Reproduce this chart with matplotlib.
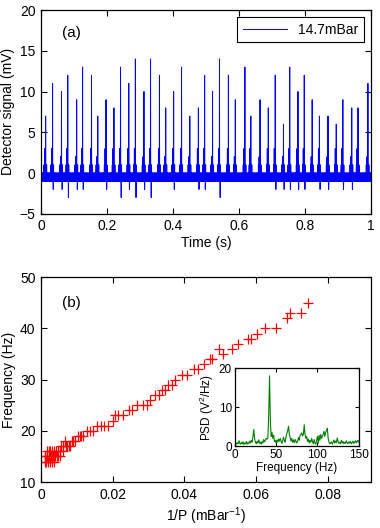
import numpy as np
import matplotlib
matplotlib.use('Agg')
import matplotlib.pyplot as plt

plt.rcParams['font.family'] = ['Liberation Sans', 'DejaVu Sans']
plt.rcParams['mathtext.default'] = 'regular'

# (a) detector signal: spike events
spike_times = [0.014, 0.035, 0.062, 0.081, 0.108, 0.126, 0.153, 0.172, 0.197, 0.221,
               0.241, 0.266, 0.286, 0.312, 0.332, 0.359, 0.378, 0.402, 0.426, 0.451,
               0.477, 0.496, 0.520, 0.541, 0.568, 0.589, 0.618, 0.636, 0.664, 0.689,
               0.710, 0.735, 0.754, 0.779, 0.798, 0.822, 0.844, 0.870, 0.895, 0.915,
               0.942, 0.961, 0.991]
spike_peaks = [7, 11, 10, 12, 9, 13, 12, 7, 9, 8,
               13, 11, 14, 10, 14, 12, 8, 10, 13, 7,
               8, 12, 10, 14, 12, 9, 13, 7, 9, 8,
               12, 6, 13, 10, 12, 9, 7, 7, 6, 9,
               8, 8, 11]
spike_pre = [3, 3, 2, 3, 2, 3, 3, 2, 3, 3,
             3, 3, 3, 2, 3, 3, 2, 3, 3, 2,
             3, 3, 2, 3, 3, 2, 3, 3, 2, 3,
             3, 2, 3, 3, 3, 2, 3, 2, 3, 3,
             2, 3, 2]
spike_dips = [-1, -2, -2, -3, -2, -2, -1, -1, -2, -1,
              -3, -2, -3, -2, -3, -1, -1, -2, -1, -1,
              -2, -2, -1, -3, -1, -1, -1, -1, -1, -1,
              -2, -2, -2, -2, -2, -1, -2, -2, -1, -2,
              -2, -1, -1]
baseline_levels = [0, -1]
dt = 0.0005

# (b) oscillation frequency vs inverse pressure
inv_p = [0.0744, 0.0724, 0.0695, 0.0686, 0.0654, 0.0624, 0.0602, 0.0585, 0.0576, 0.0548,
         0.0532, 0.0495, 0.0508, 0.0478, 0.0471, 0.0454, 0.0439, 0.0428, 0.0407, 0.0392,
         0.0375, 0.0366, 0.0355, 0.0347, 0.0338, 0.0330, 0.0318, 0.0305, 0.0295, 0.0285,
         0.0268, 0.0255, 0.0245, 0.0228, 0.0215, 0.0205, 0.0200, 0.0187, 0.0176, 0.0166,
         0.0156, 0.0145, 0.0136, 0.0128, 0.0118, 0.0109, 0.0102, 0.0095, 0.0085, 0.0078,
         0.0072, 0.0062, 0.0055, 0.0053, 0.0060, 0.0048, 0.0042, 0.0036, 0.0030, 0.0025,
         0.0047, 0.0040, 0.0033, 0.0027, 0.0021, 0.0016, 0.0012, 0.0052, 0.0044, 0.0036,
         0.0030, 0.0024, 0.0019, 0.0014, 0.0010, 0.0022, 0.0016, 0.0011, 0.0066, 0.0070,
         0.0090, 0.0082, 0.0112]
freq = [45, 43, 43, 42, 40, 40, 39, 38, 38, 37,
        36, 36, 35, 34, 34, 33, 32, 32, 31, 31,
        30, 29, 29, 28, 28, 27, 27, 26, 25, 25,
        25, 24, 24, 23, 23, 23, 22, 21, 21, 21,
        21, 20, 20, 20, 19, 19, 19, 18, 18, 17,
        17, 17, 17, 16, 16, 16, 16, 16, 16, 16,
        15, 15, 15, 15, 15, 15, 15, 15, 15, 14,
        14, 14, 14, 14, 14, 16, 16, 15, 18, 17,
        18, 17, 19]

# inset: power spectral density
psd_freq = np.arange(0, 151, 1)
psd = [3.0, 0.8, 0.5, 0.9, 0.6, 1.4, 0.7, 0.5, 1.0, 0.6,
       1.1, 0.4, 0.8, 0.6, 1.2, 0.5, 0.9, 0.7, 1.3, 0.8,
       1.5, 1.0, 2.5, 4.3, 1.8, 1.0, 0.6, 1.3, 0.8, 1.6,
       0.7, 1.0, 0.5, 1.2, 0.8, 1.7, 1.1, 1.5, 2.0, 1.8,
       2.2, 8.0, 18.0, 6.5, 2.5, 3.5, 2.0, 2.8, 1.2, 1.5,
       0.8, 1.6, 1.0, 1.8, 1.3, 2.0, 1.2, 0.7, 1.5, 2.3,
       1.4, 1.0, 2.5, 3.2, 4.0, 5.1, 3.0, 2.2, 1.3, 2.0,
       1.0, 1.6, 0.9, 1.7, 1.2, 0.8, 1.4, 2.2, 1.5, 2.8,
       3.0, 3.4, 2.6, 3.0, 5.5, 3.0, 2.0, 2.5, 1.2, 1.8,
       0.8, 1.5, 1.0, 2.0, 1.1, 0.6, 1.7, 0.8, 0.5, 1.5,
       2.5, 0.7, 2.8, 1.5, 3.0, 2.0, 2.6, 3.0, 3.8, 2.5,
       3.5, 4.0, 4.6, 2.0, 1.0, 0.6, 0.8, 1.1, 0.5, 1.0,
       1.6, 0.8, 1.3, 0.9, 2.1, 1.2, 0.7, 1.0, 0.6, 1.5,
       0.8, 1.2, 0.6, 1.0, 0.7, 1.4, 0.9, 0.6, 1.1, 0.8,
       1.2, 0.6, 0.9, 1.3, 0.7, 1.0, 1.4, 0.8, 1.2, 1.5,
       1.0]

# build the trace from the spike events
t = np.arange(0, 1 + dt / 2, dt)
sig = np.resize(np.array(baseline_levels, dtype=float), len(t))
for ts, pk, pre, dip in zip(spike_times, spike_peaks, spike_pre, spike_dips):
    i = int(round(ts / dt))
    lo, hi = max(i - 10, 0), min(i + 8, len(t))
    sig[lo:hi:2] = 1
    sig[max(i - 6, 0)] = pre
    sig[max(i - 3, 0)] = 2
    if i < len(t):
        sig[i] = pk
    if i + 4 < len(t):
        sig[i + 4] = dip

fig = plt.figure(figsize=(3.8, 5.28), dpi=100)

def style(ax, fs=10):
    ax.tick_params(direction='in', top=True, right=True, length=4, width=0.8,
                   labelsize=fs, pad=4)
    for s in ax.spines.values():
        s.set_linewidth(0.9)

ax1 = fig.add_axes([0.108, 0.595, 0.868, 0.386])
ax1.plot(t, sig, color='#0000ff', lw=0.7, label='14.7mBar')
ax1.set_xlim(0, 1)
ax1.set_ylim(-5, 20)
ax1.set_xticks([0, 0.2, 0.4, 0.6, 0.8, 1])
ax1.set_xticklabels(['0', '0.2', '0.4', '0.6', '0.8', '1'])
ax1.set_yticks([-5, 0, 5, 10, 15, 20])
ax1.set_yticklabels(['\u22125', '0', '5', '10', '15', '20'])
ax1.set_xlabel('Time (s)', fontsize=10, labelpad=2)
ax1.set_ylabel('Detector signal (mV)', fontsize=10, labelpad=3)
ax1.text(0.064, 0.887, '(a)', transform=ax1.transAxes, fontsize=11, va='center')
leg = ax1.legend(loc='upper right', fontsize=10, fancybox=False, edgecolor='black',
                 framealpha=1, handlelength=3.2, borderaxespad=0.5)
leg.get_frame().set_linewidth(0.8)
style(ax1)

ax2 = fig.add_axes([0.108, 0.087, 0.868, 0.388])
ax2.plot(inv_p, freq, '+', color='#ff0000', ms=7, mew=0.9)
ax2.set_xlim(0, 0.092)
ax2.set_ylim(10, 50)
ax2.set_xticks([0, 0.02, 0.04, 0.06, 0.08])
ax2.set_xticklabels(['0', '0.02', '0.04', '0.06', '0.08'])
ax2.set_yticks([10, 20, 30, 40, 50])
ax2.set_xlabel('1/P (mBar$^{-1}$)', fontsize=10, labelpad=3)
ax2.set_ylabel('Frequency (Hz)', fontsize=10, labelpad=3)
ax2.text(0.064, 0.873, '(b)', transform=ax2.transAxes, fontsize=11, va='center')
style(ax2)

ax3 = fig.add_axes([0.618, 0.155, 0.326, 0.148])
ax3.plot(psd_freq, psd, color='#008000', lw=0.8)
ax3.set_xlim(0, 150)
ax3.set_ylim(0, 20)
ax3.set_xticks([0, 50, 100, 150])
ax3.set_yticks([0, 10, 20])
ax3.set_xlabel('Frequency (Hz)', fontsize=8.5, labelpad=1)
ax3.set_ylabel('PSD (V$^2$/Hz)', fontsize=8.5, labelpad=2)
style(ax3, fs=8.5)
ax3.tick_params(length=3, pad=2)

fig.savefig('out.png', dpi=100)
